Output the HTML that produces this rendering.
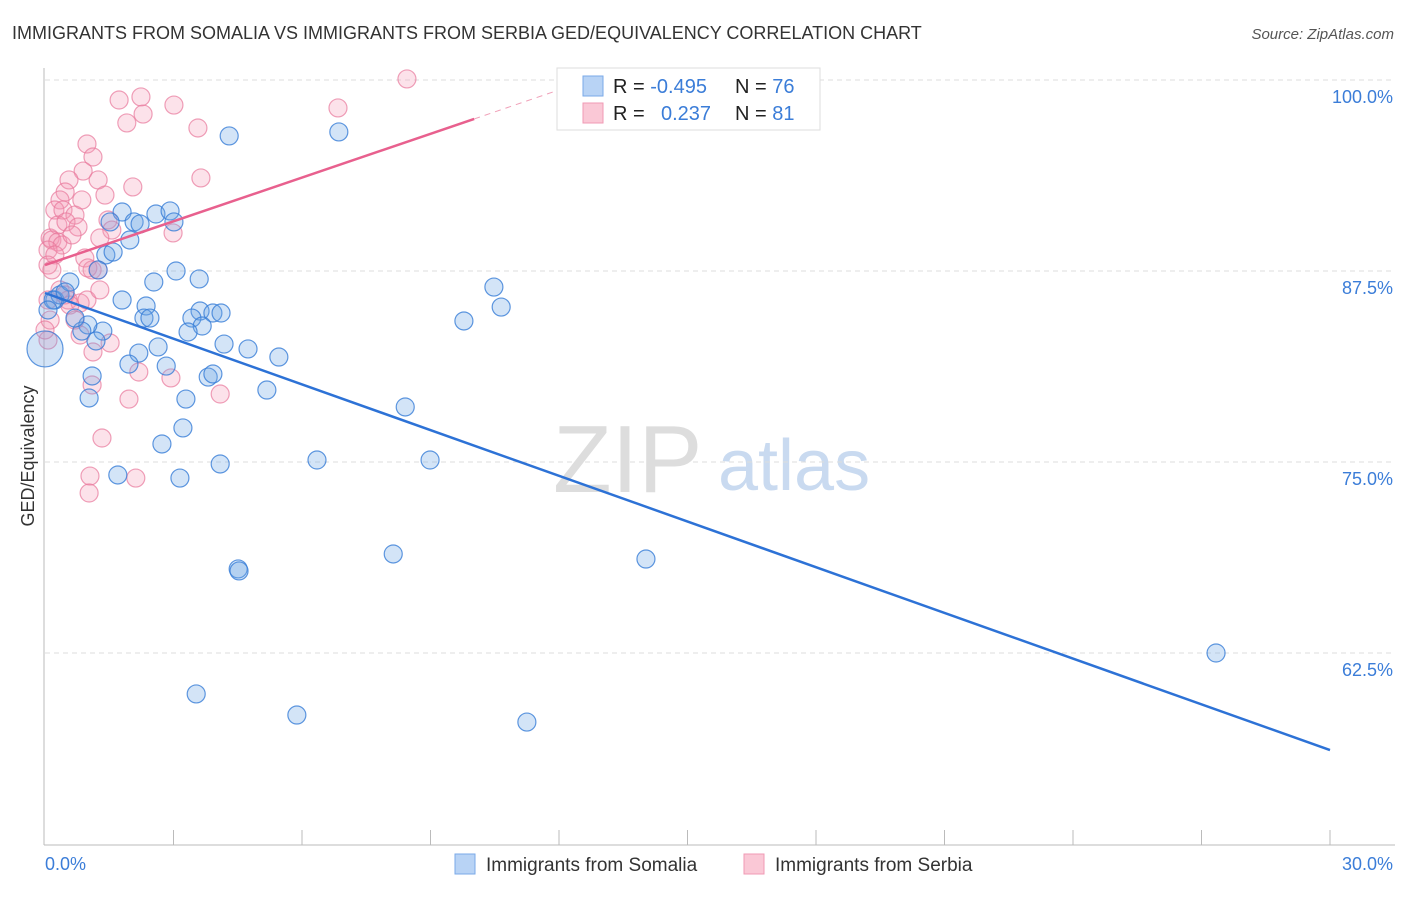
<!DOCTYPE html>
<html><head><meta charset="utf-8"><style>
body{margin:0;background:#fff;font-family:"Liberation Sans",sans-serif}
svg text{font-family:"Liberation Sans",sans-serif}
</style></head><body>
<svg width="1406" height="892" xmlns="http://www.w3.org/2000/svg">
<text x="12" y="39" font-size="18" fill="#333">IMMIGRANTS FROM SOMALIA VS IMMIGRANTS FROM SERBIA GED/EQUIVALENCY CORRELATION CHART</text>
<text x="1394" y="39" font-size="15" fill="#555" text-anchor="end" font-style="italic">Source: ZipAtlas.com</text>
<g>
<text x="553" y="492" font-size="96" fill="#ddd" font-family="Liberation Serif">ZIP</text>
<text x="718" y="490" font-size="72" fill="#c9daf0">atlas</text>
</g>
<g id="grid"></g>
<g id="axes"></g>
<g id="marks"></g>
<text transform="translate(34,456) rotate(-90)" font-size="18" fill="#333" text-anchor="middle">GED/Equivalency</text>
<text x="45" y="870" font-size="18" fill="#3b7dd8">0.0%</text>
<text x="1393" y="870" font-size="18" fill="#3b7dd8" text-anchor="end">30.0%</text>
<g>
<rect x="557" y="68" width="263" height="62" fill="#fff" stroke="#ddd"/>
<rect x="583" y="76" width="20" height="20" fill="#b8d3f5" stroke="#7aaae8"/>
<rect x="583" y="103" width="20" height="20" fill="#fac8d6" stroke="#f09ab4"/>
<text x="613" y="93" font-size="20" fill="#222">R = <tspan fill="#3b7dd8">-0.495</tspan><tspan x="735">N = </tspan><tspan fill="#3b7dd8">76</tspan></text>
<text x="613" y="120" font-size="20" fill="#222">R = <tspan x="661" fill="#3b7dd8">0.237</tspan><tspan x="735">N = </tspan><tspan fill="#3b7dd8">81</tspan></text>
</g>
<g>
<rect x="455" y="854" width="20" height="20" fill="#b8d3f5" stroke="#7aaae8"/>
<text x="486" y="871" font-size="19" fill="#333">Immigrants from Somalia</text>
<rect x="744" y="854" width="20" height="20" fill="#fac8d6" stroke="#f09ab4"/>
<text x="775" y="871" font-size="19" fill="#333">Immigrants from Serbia</text>
</g>
</svg>
<script>
const yTicks=[100,87.5,75,62.5];
const yTickLabels=["100.0%","87.5%","75.0%","62.5%"];
const xTicks=[3,6,9,12,15,18,21,24,27,30];
const somaliaX=[4.3,6.86,1.8,2.59,2.92,3.01,2.08,2.22,1.52,1.98,1.42,1.59,3.06,3.6,2.54,1.24,10.48,10.65,9.78,1.8,2.36,3.62,3.92,4.11,2.31,2.45,3.43,3.67,3.34,1.35,1.0,0.86,1.19,4.18,4.74,5.46,2.19,2.64,2.83,1.96,1.1,3.81,3.92,5.18,1.03,3.29,8.41,3.22,2.73,6.35,8.99,4.09,1.7,3.15,8.13,14.03,4.51,4.53,27.34,3.53,5.88,11.25,0.23,0.35,0.58,0.19,0.47,0.7,0.07];
const somaliaY=[96.34,96.6,91.36,91.23,91.43,90.71,90.71,90.58,90.71,89.53,88.55,88.74,87.5,86.98,86.78,87.57,86.45,85.14,84.23,85.6,85.21,84.88,84.75,84.75,84.42,84.42,84.42,83.9,83.51,83.57,83.97,83.57,82.92,82.72,82.4,81.87,82.13,82.53,81.28,81.41,80.63,80.56,80.76,79.71,79.19,79.12,78.6,77.23,76.18,75.13,75.13,74.87,74.15,73.95,68.98,68.65,68.0,67.87,62.5,59.82,58.44,57.98,85.6,85.93,86.78,85.6,86.13,84.42,84.95];
const serbiaX=[8.45,6.84,1.73,2.24,2.29,1.91,3.01,3.57,3.64,0.98,1.12,0.89,1.24,0.56,0.47,0.35,0.86,1.4,2.05,0.23,0.42,0.7,1.47,1.56,2.99,0.12,0.3,0.49,0.77,0.16,0.3,0.4,0.63,1.28,0.07,0.23,0.07,0.16,0.93,1.1,1.0,1.24,0.35,0.47,0.54,0.82,0.98,1.28,0.07,0.12,0.07,1.52,1.12,2.19,2.94,1.1,1.96,4.09,1.33,1.05,2.12,1.03,0.0,0.58,0.7,0.82];
const serbiaY=[100.07,98.17,98.69,98.89,97.77,97.19,98.36,96.86,93.59,95.81,94.96,94.04,93.46,93.46,92.67,92.15,92.15,92.47,93.0,91.49,91.49,91.16,90.84,90.18,89.99,89.66,90.51,90.71,90.38,89.53,89.4,89.2,89.86,89.66,88.87,88.55,87.89,87.57,88.35,87.57,87.7,87.57,86.26,85.93,85.6,85.41,85.6,86.26,85.6,84.29,82.98,82.79,82.2,80.89,80.5,80.04,79.12,79.45,76.57,74.08,73.95,72.97,83.64,85.27,84.29,83.31];
const bigX=[0.0], bigY=[82.4];
const somaliaTrend=[[0,86.06],[30,56.15]];
const serbiaTrend=[[0,87.89],[10.02,97.45]];
const serbiaTrendExt=[[10.02,97.45],[12,99.35]];
const NS="http://www.w3.org/2000/svg";
const xs=v=>45+v/30*1285;
const ys=v=>80+(100-v)*15.28;
function mk(tag,attrs,parent){const e=document.createElementNS(NS,tag);for(const k in attrs)e.setAttribute(k,attrs[k]);document.getElementById(parent).appendChild(e);return e;}
yTicks.forEach((t,i)=>{
 const l=mk('line',{x1:45,x2:1395,y1:ys(t),y2:ys(t),stroke:'#ddd','stroke-dasharray':'5,4'},'grid');
 
 
 const tx=mk('text',{x:1393,y:ys(t)+23,'font-size':18,fill:'#3b7dd8','text-anchor':'end'},'grid');
 tx.textContent=yTickLabels[i];
 
 
});
const ax=mk('line',{x1:44,x2:44,y1:68,y2:845,stroke:'#bbb'},'axes');


const bx=mk('line',{x1:44,x2:1395,y1:845,y2:845,stroke:'#bbb'},'axes');


xTicks.forEach(t=>{
 const l=mk('line',{x1:xs(t),x2:xs(t),y1:830,y2:845,stroke:'#bbb'},'axes');
 
 
});
function dots(X,Y,fill,stroke,name,r){
 X.forEach((x,i)=>{
  const c=mk('circle',{cx:xs(x),cy:ys(Y[i]),r:r,fill:fill,stroke:stroke,'stroke-width':1.2},'marks');
  
  
 });
}
dots(serbiaX,serbiaY,'rgba(244,150,180,0.28)','rgba(232,120,155,0.7)','serbia-point',9);
dots(somaliaX,somaliaY,'rgba(110,165,230,0.3)','rgba(55,125,215,0.8)','somalia-point',9);
dots(bigX,bigY,'rgba(110,165,230,0.3)','rgba(55,125,215,0.8)','somalia-point-large',18);
function line(p,color,name,dash){
 const l=mk('line',{x1:xs(p[0][0]),y1:ys(p[0][1]),x2:xs(p[1][0]),y2:ys(p[1][1]),stroke:color,'stroke-width':dash?1:2.5},'marks');
 if(dash)l.setAttribute('stroke-dasharray','6,5');
 
 
}
line(somaliaTrend,'#2d72d6','somalia-trend-line');
line(serbiaTrend,'#e8608e','serbia-trend-line');
line(serbiaTrendExt,'#f0a0b8','serbia-trend-extension',true);
</script>
</body></html>
